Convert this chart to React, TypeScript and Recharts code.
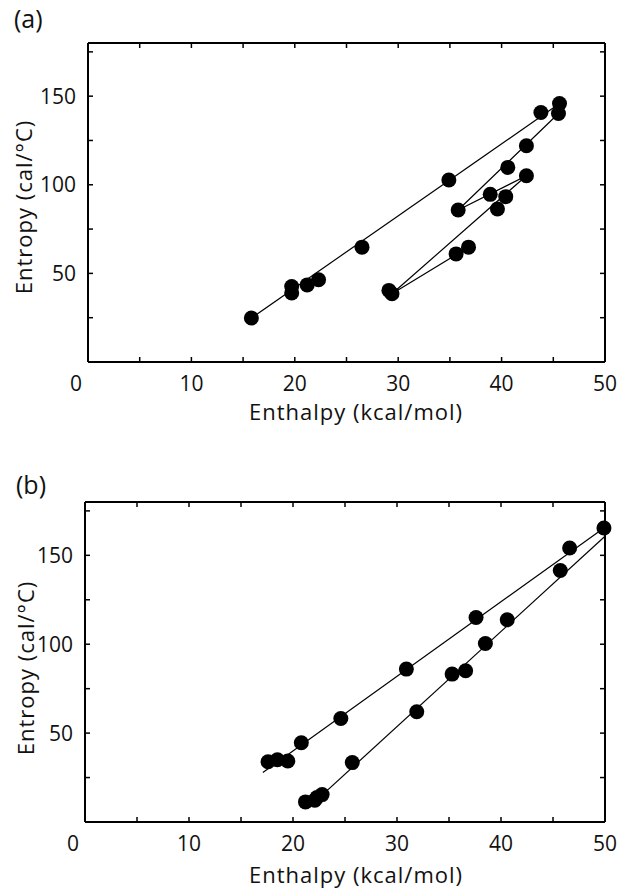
import { Scatter, ScatterChart, XAxis, YAxis } from 'recharts'

// axis ticks (minor ticks carry no label)
const xTicks = [0, 5, 10, 15, 20, 25, 30, 35, 40, 45, 50]
const yTicks = [0, 25, 50, 75, 100, 125, 150, 175]
const xLabelled = [0, 10, 20, 30, 40, 50]
const yLabelled = [50, 100, 150]

// panel (a): enthalpy (kcal/mol) vs entropy (cal/°C)
const panelADots = [
  { h: 15.8, s: 24.8 },
  { h: 19.7, s: 42.6 },
  { h: 19.7, s: 38.9 },
  { h: 21.2, s: 43.5 },
  { h: 22.3, s: 46.4 },
  { h: 26.5, s: 64.8 },
  { h: 34.9, s: 102.7 },
  { h: 43.8, s: 140.8 },
  { h: 45.6, s: 145.8 },
  { h: 45.5, s: 140.2 },
  { h: 42.4, s: 122.0 },
  { h: 40.6, s: 109.8 },
  { h: 42.4, s: 105.1 },
  { h: 38.9, s: 94.6 },
  { h: 40.4, s: 93.3 },
  { h: 39.6, s: 86.3 },
  { h: 35.8, s: 85.8 },
  { h: 36.8, s: 64.8 },
  { h: 35.6, s: 61.0 },
  { h: 29.1, s: 40.4 },
  { h: 29.4, s: 38.5 },
]
const panelAFit = [
  { h: 15.8, s: 24.8 },
  { h: 45.6, s: 145.8 },
]
const panelAPath = [
  { h: 45.5, s: 140.2 },
  { h: 35.8, s: 85.8 },
  { h: 42.4, s: 105.1 },
  { h: 29.4, s: 38.5 },
  { h: 36.8, s: 64.8 },
]

// panel (b)
const panelBDots = [
  { h: 17.6, s: 33.9 },
  { h: 18.5, s: 35.0 },
  { h: 19.5, s: 34.3 },
  { h: 20.8, s: 44.6 },
  { h: 24.6, s: 58.2 },
  { h: 30.9, s: 86.0 },
  { h: 37.6, s: 115.0 },
  { h: 46.6, s: 154.1 },
  { h: 49.9, s: 165.4 },
  { h: 45.7, s: 141.5 },
  { h: 40.6, s: 113.8 },
  { h: 38.5, s: 100.4 },
  { h: 36.6, s: 85.1 },
  { h: 35.3, s: 83.2 },
  { h: 31.9, s: 62.0 },
  { h: 25.7, s: 33.4 },
  { h: 21.2, s: 11.3 },
  { h: 22.1, s: 12.2 },
  { h: 22.3, s: 13.8 },
  { h: 22.8, s: 15.4 },
]
const panelBUpperFit = [
  { h: 17.1, s: 27.8 },
  { h: 49.9, s: 165.4 },
]
const panelBLowerFit = [
  { h: 22.4, s: 13.0 },
  { h: 50, s: 160.7 },
]

const font = '"Open Sans", sans-serif'
const ink = '#111'
const TICK = 5
const GAP = 12

const Dot = (p: any) => <circle cx={p.cx} cy={p.cy} r={7.5} fill="#000" />
const NoDot = () => <g />

// tick marks point into the frame; labels sit outside
const BottomTick = (p: any) => {
  const v = p.payload.value
  const axisY = p.y - GAP
  const shift = v === 0 ? -12 : 0
  return (
    <g>
      <line x1={p.x} x2={p.x} y1={axisY} y2={axisY - TICK} stroke="#000" strokeWidth={1.5} />
      {xLabelled.includes(v) && (
        <text x={p.x + shift} y={p.y} dy="0.8em" textAnchor="middle" fontSize={21} fontFamily={font} fill={ink}>
          {v}
        </text>
      )}
    </g>
  )
}

const LeftTick = (p: any) => {
  const v = p.payload.value
  const axisX = p.x + GAP
  return (
    <g>
      <line x1={axisX} x2={axisX + TICK} y1={p.y} y2={p.y} stroke="#000" strokeWidth={1.5} />
      {yLabelled.includes(v) && (
        <text x={p.x} y={p.y} dy="0.36em" textAnchor="end" fontSize={21} fontFamily={font} fill={ink}>
          {v}
        </text>
      )}
    </g>
  )
}

const TopTick = (p: any) => (
  <line x1={p.x} x2={p.x} y1={p.y} y2={p.y + TICK} stroke="#000" strokeWidth={1.5} />
)

const RightTick = (p: any) => (
  <line x1={p.x} x2={p.x - TICK} y1={p.y} y2={p.y} stroke="#000" strokeWidth={1.5} />
)

type Box = { left: number; right: number; top: number; bottom: number }

function Panel({ top, height, box, dots, lines }: { top: number; height: number; box: Box; dots: any[]; lines: any[][] }) {
  const axisLine = { stroke: '#000', strokeWidth: 2 }
  return (
    <div style={{ position: 'absolute', left: 0, top }}>
      <ScatterChart
        width={618}
        height={height}
        style={{ overflow: 'visible' }}
        margin={{ top: box.top - 1, right: 618 - box.right - 1, left: box.left - 60, bottom: height - box.bottom - 30 }}
      >
        <XAxis
          xAxisId={0}
          dataKey="h"
          type="number"
          domain={[0, 50]}
          ticks={xTicks}
          interval={0}
          height={30}
          tickSize={0}
          tickMargin={GAP}
          axisLine={axisLine}
          tickLine={false}
          tick={<BottomTick />}
        />
        <XAxis
          xAxisId="top"
          orientation="top"
          dataKey="h"
          type="number"
          domain={[0, 50]}
          ticks={xTicks}
          interval={0}
          height={1}
          tickSize={0}
          tickMargin={0}
          axisLine={axisLine}
          tickLine={false}
          tick={<TopTick />}
        />
        <YAxis
          yAxisId={0}
          dataKey="s"
          type="number"
          domain={[0, 180]}
          ticks={yTicks}
          interval={0}
          width={60}
          tickSize={0}
          tickMargin={GAP}
          axisLine={axisLine}
          tickLine={false}
          tick={<LeftTick />}
        />
        <YAxis
          yAxisId="right"
          orientation="right"
          dataKey="s"
          type="number"
          domain={[0, 180]}
          ticks={yTicks}
          interval={0}
          width={1}
          tickSize={0}
          tickMargin={0}
          axisLine={axisLine}
          tickLine={false}
          tick={<RightTick />}
        />
        {lines.map((l, i) => (
          <Scatter
            key={i}
            data={l}
            xAxisId={i === 0 ? 'top' : 0}
            yAxisId={i === 0 ? 'right' : 0}
            line={{ stroke: '#000', strokeWidth: 1.2 }}
            shape={NoDot}
            isAnimationActive={false}
          />
        ))}
        <Scatter data={dots} shape={Dot} isAnimationActive={false} />
      </ScatterChart>
    </div>
  )
}

const textBase = {
  position: 'absolute' as const,
  fontFamily: font,
  color: ink,
  whiteSpace: 'nowrap' as const,
  lineHeight: 1,
}
const titleStyle = { ...textBase, fontSize: 22, letterSpacing: 1 }

export default function App() {
  return (
    <div style={{ position: 'fixed', left: 0, top: 0, width: 618, height: 892, background: '#fff', overflow: 'hidden' }}>
      <Panel top={0} height={440} box={{ left: 88, right: 605, top: 43, bottom: 362 }} dots={panelADots} lines={[panelAFit, panelAPath]} />
      <Panel top={440} height={452} box={{ left: 85, right: 605, top: 62, bottom: 382 }} dots={panelBDots} lines={[panelBUpperFit, panelBLowerFit]} />

      <div style={{ ...textBase, left: 14, top: 6, fontSize: 25 }}>(a)</div>
      <div style={{ ...titleStyle, left: 356, top: 411, transform: 'translate(-50%, -50%)' }}>Enthalpy (kcal/mol)</div>
      <div style={{ ...titleStyle, left: 23, top: 207, transform: 'translate(-50%, -50%) rotate(-90deg)' }}>Entropy (cal/°C)</div>

      <div style={{ ...textBase, left: 16, top: 472, fontSize: 25 }}>(b)</div>
      <div style={{ ...titleStyle, left: 356, top: 874, transform: 'translate(-50%, -50%)' }}>Enthalpy (kcal/mol)</div>
      <div style={{ ...titleStyle, left: 25, top: 668, transform: 'translate(-50%, -50%) rotate(-90deg)' }}>Entropy (cal/°C)</div>
    </div>
  )
}
